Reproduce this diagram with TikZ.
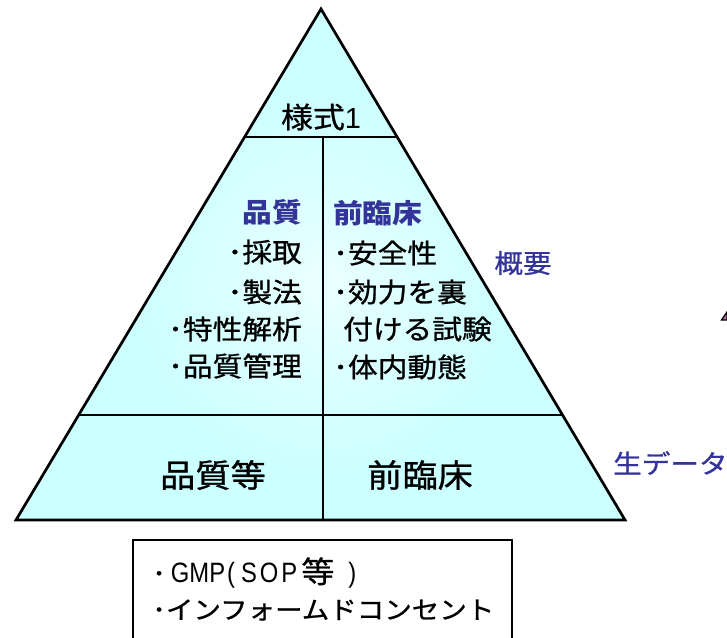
\documentclass[tikz,border=0pt]{standalone}
\usepackage{fontspec}
\setmainfont{Noto Sans CJK JP}[FakeStretch=1.1, UprightFeatures={FakeBold=0.9}]
\newfontfamily\lat{Liberation Sans}[FakeStretch=1.0]
\newfontfamily\latc{Liberation Sans}[FakeStretch=0.85]
\definecolor{pyr}{HTML}{CCFFFF}
\definecolor{pyrlight}{HTML}{EAFFFF}
\definecolor{navy}{HTML}{333399}
\tikzset{
  txt/.style={inner sep=0pt, font=\fontsize{27}{32}\selectfont},
  head/.style={inner sep=0pt, text=navy, font=\fontsize{27}{32}\selectfont\bfseries},
  side/.style={inner sep=0pt, text=navy, font=\fontsize{26}{30}\selectfont},
  big/.style={inner sep=0pt, font=\fontsize{32}{36}\selectfont},
  top/.style={inner sep=0pt, font=\fontsize{29}{34}\selectfont},
  boxtxt/.style={inner sep=0pt, font=\fontsize{25}{30}\selectfont},
  edge/.style={line width=2.7pt, line join=miter},
  divider/.style={line width=2.6pt},
}
\begin{document}
\begin{tikzpicture}[x=1pt,y=-1pt]
\useasboundingbox (0,0) rectangle (727,637);
\clip (0,0) rectangle (727,637);
% pyramid corners and dividers
\coordinate (apex) at (321,9);
\coordinate (bl) at (16,520);
\coordinate (br) at (625,520);
\coordinate (l1a) at (245,137);
\coordinate (l1b) at (397,137);
\coordinate (l2a) at (79,415);
\coordinate (l2b) at (563,415);
\coordinate (vtop) at (323,137);
\coordinate (vbot) at (323,520);
\begin{scope}
  \clip (apex) -- (bl) -- (br) -- cycle;
  \fill[pyr] (0,0) rectangle (727,637);
  \shade[inner color=pyrlight, outer color=pyr] (323,285) circle (190);
\end{scope}
\draw[divider] (l1a) -- (l1b);
\draw[divider] (l2a) -- (l2b);
\draw[divider] (vtop) -- (vbot);
\draw[edge] (apex) -- (bl) -- (br) -- cycle;
% top
\node[top] (yoshiki) at (321,117) {様式{\lat 1}};
% left column
\node[head, anchor=east] (hq) at (302,212) {品質};
\node[txt, anchor=east] (q1) at (302,252) {･採取};
\node[txt, anchor=east] (q2) at (302,292) {･製法};
\node[txt, anchor=east] (q3) at (302,329) {･特性解析};
\node[txt, anchor=east] (q4) at (302,366) {･品質管理};
% right column
\node[head, anchor=west] (hp) at (333,213) {前臨床};
\node[txt, anchor=west] (p1) at (333,253) {･安全性};
\node[txt, anchor=west] (p2) at (333,292) {･効力を裏};
\node[txt, anchor=west] (p3) at (343,329) {付ける試験};
\node[txt, anchor=west] (p4) at (333,367) {･体内動態};
% side labels
\node[side] (gaiyo) at (523,263) {概要};
\node[side, anchor=west] (raw) at (613,463) {生データ};
% bottom row
\node[big] (bq) at (213,475) {品質等};
\node[big] (bp) at (420,475) {前臨床};
% box
\draw[line width=2pt] (133,540) rectangle (512,660);
\node[boxtxt, anchor=west] (gmp) at (152,573) {･\kern5pt{\latc\fontsize{28}{30}\selectfont GMP\kern2pt(\kern6pt S\kern3pt O\kern3pt P}\kern4pt{\fontsize{30}{30}\selectfont 等}\kern14pt{\latc\fontsize{28}{30}\selectfont )}};
\node[boxtxt, anchor=west] (ic) at (152,610) {･インフォームドコンセント};
% partial shape at right edge
\filldraw[fill=violet!55, draw=black, line width=1.3pt] (721.5,320) -- (727,312) -- (727,320) -- cycle;
\end{tikzpicture}
\end{document}
